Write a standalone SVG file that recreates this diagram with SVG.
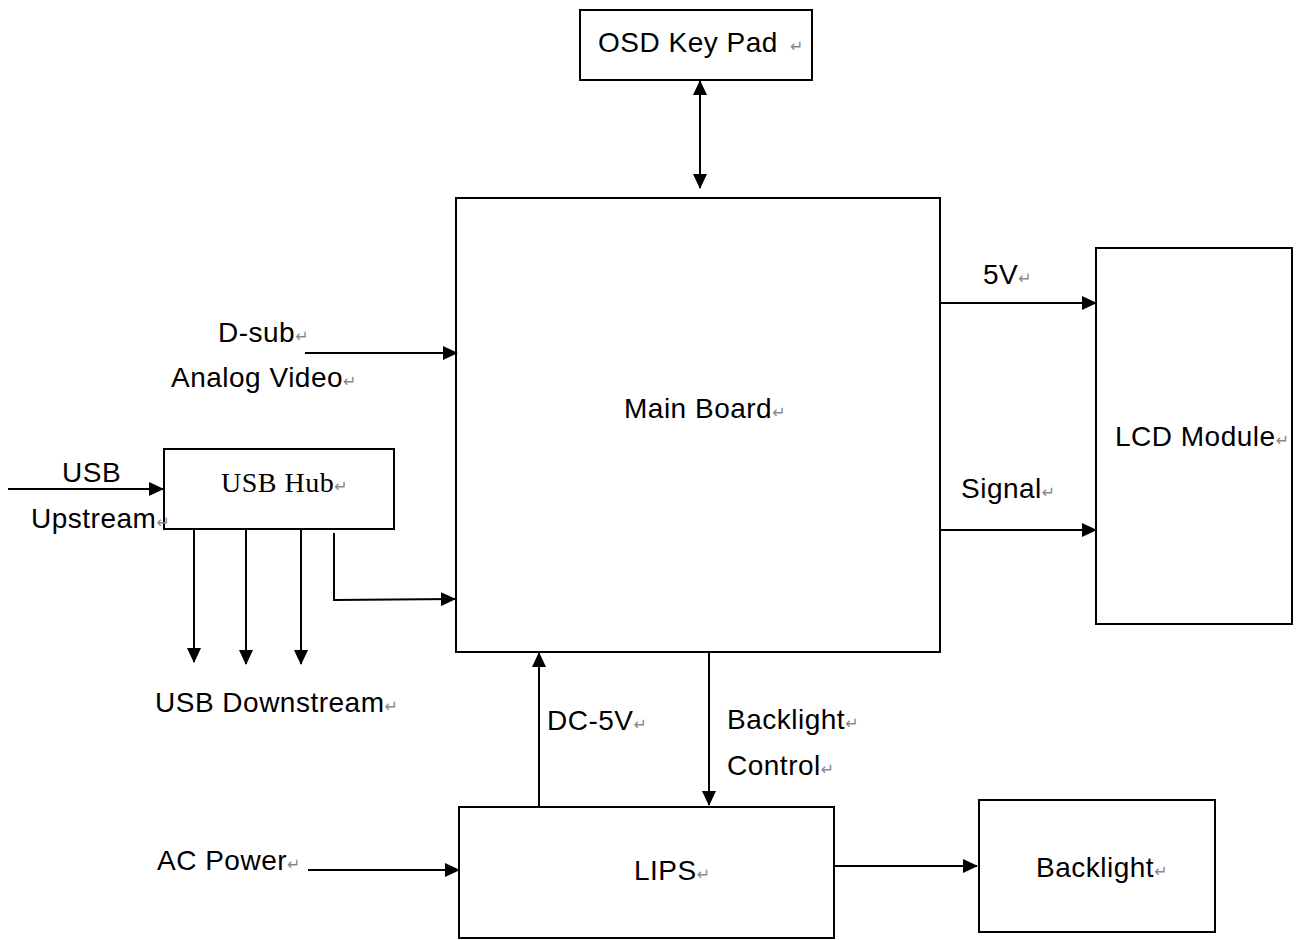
<svg xmlns="http://www.w3.org/2000/svg" width="1297" height="940" viewBox="0 0 1297 940">
<style>
.box{fill:#fff;stroke:#000;stroke-width:2}
.t{font-family:"Liberation Sans",Arial,sans-serif;font-size:28px;letter-spacing:0.5px;fill:#000}
.s{font-family:"Liberation Serif","Times New Roman",serif;font-size:28px;letter-spacing:0.5px;fill:#000}
.r{font-family:"DejaVu Sans",sans-serif;font-size:16px;letter-spacing:0;fill:#888}
.ln{fill:none;stroke:#000;stroke-width:2}
</style>
<defs>
<marker id="ah" markerUnits="userSpaceOnUse" markerWidth="15" markerHeight="14" refX="14" refY="7" orient="auto-start-reverse">
<path d="M0,0 L15,7 L0,14 Z" fill="#000"/>
</marker>
</defs>
<rect width="1297" height="940" fill="#fff"/>
<g id="osd">
<rect class="box" x="580" y="10" width="232" height="70"/>
<text class="t" x="598" y="52">OSD Key Pad <tspan class="r" dx="4">↵</tspan></text>
</g>
<g id="main">
<rect class="box" x="456" y="198" width="484" height="454"/>
<text class="t" x="624" y="418">Main Board<tspan class="r">↵</tspan></text>
</g>
<g id="lcd">
<rect class="box" x="1096" y="248" width="196" height="376"/>
<text class="t" x="1115" y="446">LCD Module<tspan class="r">↵</tspan></text>
</g>
<g id="usbhub">
<rect class="box" x="164" y="449" width="230" height="80"/>
<text class="s" x="221" y="492">USB Hub<tspan class="r">↵</tspan></text>
</g>
<g id="lips">
<rect class="box" x="459" y="807" width="375" height="131"/>
<text class="t" x="634" y="880">LIPS<tspan class="r">↵</tspan></text>
</g>
<g id="backlight">
<rect class="box" x="979" y="800" width="236" height="132"/>
<text class="t" x="1036" y="877">Backlight<tspan class="r">↵</tspan></text>
</g>
<g id="labels">
<text class="t" x="983" y="284">5V<tspan class="r">↵</tspan></text>
<text class="t" x="961" y="498">Signal<tspan class="r">↵</tspan></text>
<text class="t" x="218" y="342">D-sub<tspan class="r">↵</tspan></text>
<text class="t" x="171" y="387">Analog Video<tspan class="r">↵</tspan></text>
<text class="t" x="62" y="482">USB</text>
<text class="t" x="31" y="528">Upstream<tspan class="r">↵</tspan></text>
<text class="t" x="155" y="712">USB Downstream<tspan class="r">↵</tspan></text>
<text class="t" x="547" y="730">DC-5V<tspan class="r">↵</tspan></text>
<text class="t" x="727" y="729">Backlight<tspan class="r">↵</tspan></text>
<text class="t" x="727" y="775">Control<tspan class="r">↵</tspan></text>
<text class="t" x="157" y="870">AC Power<tspan class="r">↵</tspan></text>
</g>
<g id="connectors">
<line class="ln" x1="700" y1="81" x2="700" y2="188" marker-start="url(#ah)" marker-end="url(#ah)"/>
<line class="ln" x1="940" y1="303" x2="1096" y2="303" marker-end="url(#ah)"/>
<line class="ln" x1="940" y1="530" x2="1096" y2="530" marker-end="url(#ah)"/>
<line class="ln" x1="305" y1="353" x2="457" y2="353" marker-end="url(#ah)"/>
<line class="ln" x1="8" y1="489" x2="163" y2="489" marker-end="url(#ah)"/>
<line class="ln" x1="194" y1="530" x2="194" y2="662" marker-end="url(#ah)"/>
<line class="ln" x1="246" y1="530" x2="246" y2="664" marker-end="url(#ah)"/>
<line class="ln" x1="301" y1="530" x2="301" y2="664" marker-end="url(#ah)"/>
<polyline class="ln" points="334,533 334,600 455,599" marker-end="url(#ah)"/>
<line class="ln" x1="539" y1="807" x2="539" y2="653" marker-end="url(#ah)"/>
<line class="ln" x1="709" y1="652" x2="709" y2="805" marker-end="url(#ah)"/>
<line class="ln" x1="308" y1="870" x2="459" y2="870" marker-end="url(#ah)"/>
<line class="ln" x1="834" y1="866" x2="977" y2="866" marker-end="url(#ah)"/>
</g>
</svg>
